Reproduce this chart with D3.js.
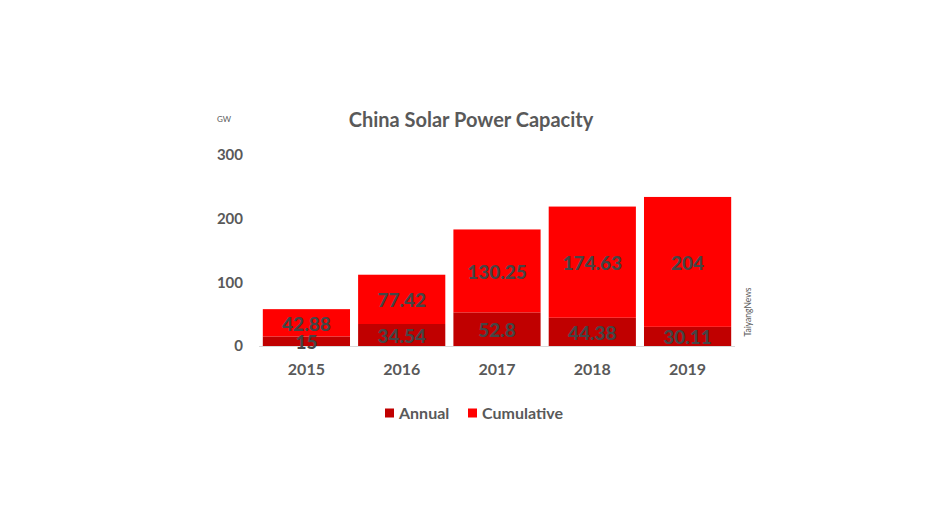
<!DOCTYPE html>
<html>
<head>
<meta charset="utf-8">
<script src="https://d3js.org/d3.v7.min.js"></script>
<style>
  body { margin: 0; background: #fff; }
  text { font-family: Lato, "Open Sans", sans-serif; fill: #595959; }
  text.label { fill: #454545; font-weight: 900; }
</style>
</head>
<body>
<svg id="chart" width="944" height="531"></svg>
<script>
var years = ['2015', '2016', '2017', '2018', '2019'];
var annual = [15, 34.54, 52.8, 44.38, 30.11];
var cumulative = [42.88, 77.42, 130.25, 174.63, 204];
var yTicks = [0, 100, 200, 300];
var seriesNames = ['Annual', 'Cumulative'];
var colors = ['#c00000', '#ff0000'];

var svg = d3.select('#chart');

var x = d3.scaleBand()
    .domain(years)
    .range([259, 735])
    .paddingInner(0.085)
    .paddingOuter(0.04);

var y = d3.scaleLinear()
    .domain([0, 300])
    .range([346, 155]);

// stack rows
var rows = years.map(function(yr, i) {
    return { year: yr, Annual: annual[i], Cumulative: cumulative[i] };
});
var stacked = d3.stack().keys(seriesNames)(rows);

var layers = svg.selectAll('g.layer')
    .data(stacked)
    .enter().append('g')
    .attr('class', 'layer')
    .attr('fill', function(d, i) { return colors[i]; });

layers.selectAll('rect')
    .data(function(d) { return d; })
    .enter().append('rect')
    .attr('x', function(d) { return x(d.data.year); })
    .attr('width', x.bandwidth())
    .attr('y', function(d) { return y(d[1]); })
    .attr('height', function(d) { return y(d[0]) - y(d[1]); });

// baseline
svg.append('line')
    .attr('x1', 259).attr('x2', 735)
    .attr('y1', y(0) + 0.5).attr('y2', y(0) + 0.5)
    .attr('stroke', '#d9d9d9')
    .attr('stroke-width', 1);

// data labels, drawn on top of all bars
var labelGroups = svg.selectAll('g.labels')
    .data(stacked)
    .enter().append('g')
    .attr('class', 'labels');

labelGroups.selectAll('text')
    .data(function(d) { return d; })
    .enter().append('text')
    .attr('class', 'label')
    .attr('x', function(d) { return x(d.data.year) + x.bandwidth() / 2; })
    .attr('y', function(d) { return (y(d[0]) + y(d[1])) / 2 + 1; })
    .attr('dy', '0.36em')
    .attr('text-anchor', 'middle')
    .attr('font-size', 19)
    .text(function(d) { return +(d[1] - d[0]).toFixed(2); });

// y axis labels
svg.selectAll('text.ytick')
    .data(yTicks)
    .enter().append('text')
    .attr('class', 'ytick')
    .attr('x', 243)
    .attr('y', function(d) { return y(d); })
    .attr('dy', '0.36em')
    .attr('text-anchor', 'end')
    .attr('font-size', 15)
    .attr('font-weight', 'bold')
    .text(function(d) { return d; });

// x axis labels
svg.selectAll('text.xtick')
    .data(years)
    .enter().append('text')
    .attr('class', 'xtick')
    .attr('x', function(d) { return x(d) + x.bandwidth() / 2; })
    .attr('y', 369)
    .attr('dy', '0.36em')
    .attr('text-anchor', 'middle')
    .attr('font-size', 16)
    .attr('font-weight', 'bold')
    .text(function(d) { return d; });

// title
svg.append('text')
    .attr('x', 471)
    .attr('y', 120)
    .attr('dy', '0.36em')
    .attr('text-anchor', 'middle')
    .attr('font-size', 20)
    .attr('font-weight', 'bold')
    .text('China Solar Power Capacity');

// unit
svg.append('text')
    .attr('x', 224)
    .attr('y', 119)
    .attr('dy', '0.36em')
    .attr('text-anchor', 'middle')
    .attr('font-size', 8)
    .text('GW');

// source
svg.append('text')
    .attr('transform', 'translate(748,312) rotate(-90)')
    .attr('text-anchor', 'middle')
    .attr('dy', '0.36em')
    .attr('font-size', 8.5)
    .text('TaiyangNews');

// legend
var legendX = [385, 468];
var legend = svg.selectAll('g.legend')
    .data(seriesNames)
    .enter().append('g')
    .attr('class', 'legend')
    .attr('transform', function(d, i) { return 'translate(' + legendX[i] + ',413)'; });

legend.append('rect')
    .attr('x', 0).attr('y', -4.5)
    .attr('width', 9).attr('height', 9)
    .attr('fill', function(d, i) { return colors[i]; });

legend.append('text')
    .attr('x', 14)
    .attr('y', 0)
    .attr('dy', '0.36em')
    .attr('font-size', 16)
    .attr('font-weight', 'bold')
    .text(function(d) { return d; });
</script>
</body>
</html>
